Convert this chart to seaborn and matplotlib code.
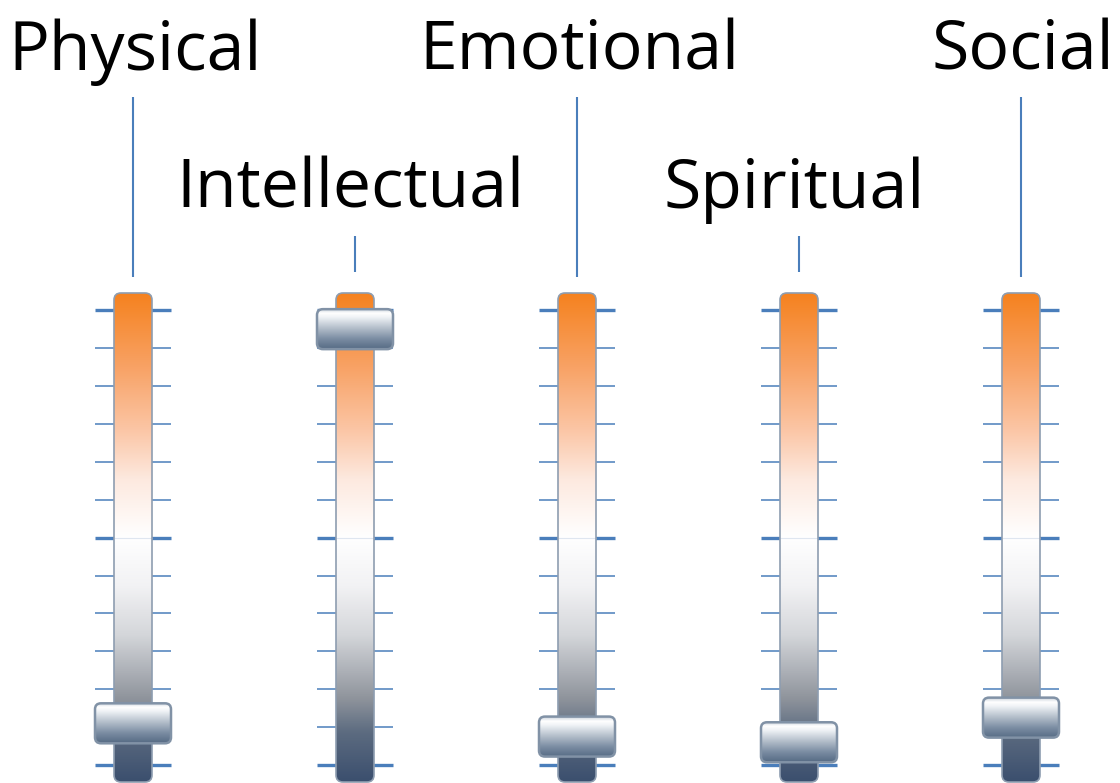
import numpy as np
import matplotlib
matplotlib.use("Agg")
import matplotlib.pyplot as plt
from matplotlib.colors import LinearSegmentedColormap
from matplotlib.patches import FancyBboxPatch
import seaborn as sns

sns.set_theme(style="white")
plt.rcParams['font.family'] = ['Open Sans', 'DejaVu Sans']

categories = ["Physical", "Intellectual", "Emotional", "Spiritual", "Social"]
values = [1.1, 11.5, 0.75, 0.6, 1.25]          # slider position on a 0-12 scale
label_row = [0, 1, 0, 1, 0]                     # 0 = upper row, 1 = lower row

scale_max = 12
tick_color = "#4a7ebb"

# pixel helpers: 222 px per slider, 37.9 px per unit
px_x, px_y = 222.0, 37.9
fig = plt.figure(figsize=(11.2, 7.83), dpi=100)
ax = fig.add_axes([0, 0, 1, 1])
ax.set_xlim(-133 / px_x, (1120 - 133) / px_x)
ax.set_ylim(-18 / px_y, 765 / px_y)
ax.axis("off")

track_cmap = LinearSegmentedColormap.from_list("track", [
    (0.0, "#3b4f6e"), (0.10, "#5c6b80"), (0.17, "#8f949c"), (0.30, "#d4d6da"),
    (0.40, "#f2f2f4"), (0.50, "#ffffff"), (0.62, "#fde9df"), (0.72, "#fbc6a6"),
    (0.85, "#f8a265"), (1.0, "#f5821f")])
knob_cmap = LinearSegmentedColormap.from_list("knob", [
    (0.0, "#566b84"), (0.25, "#7a8ca2"), (0.55, "#b9c3ce"), (0.8, "#f0f3f6"),
    (0.9, "#ffffff"), (1.0, "#cdd5dd")])

track_hw = 19 / px_x
track_bottom = -17 / px_y
track_top = 472 / px_y
knob_hw = 38 / px_x
knob_hh = 20 / px_y
aspect = px_x / px_y
grad = np.linspace(0, 1, 256).reshape(-1, 1)

for i, (name, v, row) in enumerate(zip(categories, values, label_row)):
    # ticks
    for t in range(scale_max + 1):
        major = t % 6 == 0
        ax.hlines(t, i - knob_hw, i + knob_hw, color=tick_color,
                  lw=2.4 if major else 1.1, zorder=1)
    # track
    box = FancyBboxPatch((i - track_hw, track_bottom), 2 * track_hw, track_top - track_bottom,
                         boxstyle="round,pad=0,rounding_size=%f" % (7 / px_x),
                         mutation_aspect=aspect, fc="none", ec="#8e9db0", lw=1.2, zorder=3)
    ax.add_patch(box)
    im = ax.imshow(grad, cmap=track_cmap, origin="lower", aspect="auto",
                   extent=(i - track_hw, i + track_hw, track_bottom, track_top), zorder=2)
    im.set_clip_path(box)
    ax.hlines(6, i - track_hw, i + track_hw, color="#dfe6f0", lw=0.8, zorder=2.5)
    # knob
    kb = FancyBboxPatch((i - knob_hw, v - knob_hh), 2 * knob_hw, 2 * knob_hh,
                        boxstyle="round,pad=0,rounding_size=%f" % (6 / px_x),
                        mutation_aspect=aspect, fc="none", ec="#8192a6", lw=1.8, zorder=5)
    ax.add_patch(kb)
    kim = ax.imshow(grad, cmap=knob_cmap, origin="lower", aspect="auto",
                    extent=(i - knob_hw, i + knob_hw, v - knob_hh, v + knob_hh), zorder=4)
    kim.set_clip_path(kb)
    # connector line and label
    if row == 0:
        ax.vlines(i, 488 / px_y, 668 / px_y, color=tick_color, lw=1.5, zorder=1)
        ax.text(i + 0.01, 695 / px_y, name, ha="center", va="baseline", fontsize=49, color="black")
    else:
        ax.vlines(i, 493 / px_y, 529 / px_y, color=tick_color, lw=1.5, zorder=1)
        ax.text(i - 0.02, 557 / px_y, name, ha="center", va="baseline", fontsize=49, color="black")

fig.savefig("out.png", dpi=100)
